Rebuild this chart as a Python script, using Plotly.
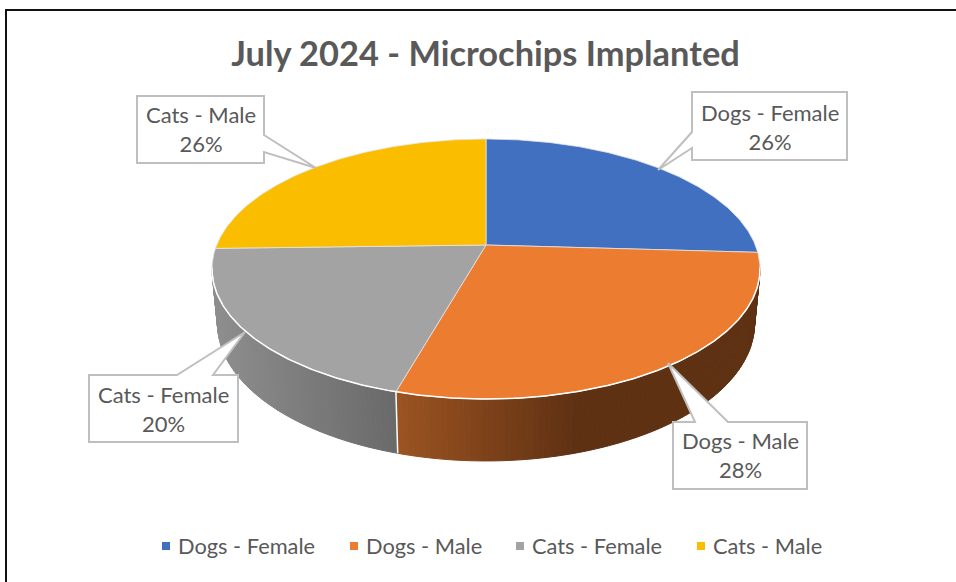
import math
import plotly.graph_objects as go

# ---------- data ----------
categories = ["Dogs - Female", "Dogs - Male", "Cats - Female", "Cats - Male"]
values = [26.0, 28.6, 20.2, 25.5]
percent_labels = ["26%", "28%", "20%", "26%"]
colors = ["#4270C1", "#EB7C30", "#A3A3A3", "#FBBD00"]
title_text = "July 2024 - Microchips Implanted"

# side gradient stops (screen x, rgb) per slice
side_stops = {
    1: [(398, (155, 83, 33)), (575, (95, 49, 19)), (760, (94, 49, 19))],
    2: [(212, (142, 142, 142)), (396, (105, 105, 105))],
}

# ---------- projection of the disc (perspective view, pixels) ----------
W, H = 956, 582
CX, CY = 486, 245
R, B, P = 269.3, 125.6, 0.1846
DEPTH, BOTTOM_SCALE = 53, 0.98
FONT = "Lato"
TEXT = "#595959"


def top(theta):
    u, v = math.sin(theta), -math.cos(theta)
    w = 1 - P * v
    return CX + R * u / w, CY + B * v / w


def bottom(theta):
    u, v = math.sin(theta), -math.cos(theta)
    w = 1 - P * v
    return CX + BOTTOM_SCALE * R * u / w, CY + (BOTTOM_SCALE * B * v + DEPTH) / w


def frange(a, b, step):
    n = max(2, int(abs(b - a) / step) + 1)
    return [a + (b - a) * i / (n - 1) for i in range(n)]


def shade(stops, x):
    if x <= stops[0][0]:
        c = stops[0][1]
    elif x >= stops[-1][0]:
        c = stops[-1][1]
    else:
        for (x0, c0), (x1, c1) in zip(stops, stops[1:]):
            if x0 <= x <= x1:
                t = (x - x0) / (x1 - x0)
                c = tuple(c0[i] + (c1[i] - c0[i]) * t for i in range(3))
                break
    return "rgb(%d,%d,%d)" % tuple(round(k) for k in c)


total = sum(values)
edges = [0.0]
for val in values:
    edges.append(edges[-1] + val / total * 2 * math.pi)

fig = go.Figure()
DEG = math.pi / 180
lo_vis, hi_vis = 100 * DEG, 260 * DEG

# side wall, one narrow band per step so the colour follows x
for i in (1, 2):
    a = max(edges[i], lo_vis)
    b = min(edges[i + 1], hi_vis)
    grid = frange(a, b, 1.0 * DEG)
    for t0, t1 in zip(grid, grid[1:]):
        p = [top(t0), top(t1), bottom(t1), bottom(t0), top(t0)]
        col = shade(side_stops[i], (p[0][0] + p[1][0]) / 2)
        fig.add_trace(go.Scatter(
            x=[q[0] for q in p], y=[q[1] for q in p], mode="lines", fill="toself",
            fillcolor=col, line=dict(color=col, width=1),
            hoverinfo="skip", showlegend=False))

# white seam on the wall
seam = [top(edges[2]), bottom(edges[2])]
fig.add_trace(go.Scatter(x=[q[0] for q in seam], y=[q[1] for q in seam], mode="lines",
                         line=dict(color="white", width=1.5), hoverinfo="skip", showlegend=False))

# top face
for i, name in enumerate(categories):
    arc = [top(t) for t in frange(edges[i], edges[i + 1], 0.5 * DEG)]
    pts = [(CX, CY)] + arc + [(CX, CY)]
    fig.add_trace(go.Scatter(
        x=[q[0] for q in pts], y=[q[1] for q in pts], mode="lines", fill="toself",
        fillcolor=colors[i], line=dict(color="#E4E4E4", width=0.8), name=name,
        hoverinfo="name", showlegend=False))

# white rim along the front edge
rim = [top(t) for t in frange(lo_vis, hi_vis, 0.5 * DEG)]
fig.add_trace(go.Scatter(x=[q[0] for q in rim], y=[q[1] for q in rim], mode="lines",
                         line=dict(color="white", width=1.5), hoverinfo="skip", showlegend=False))

# ---------- callouts: box x0,y0,x1,y1, pointer, side, text centre y ----------
callouts = {
    "Dogs - Female": ((692, 92, 847, 160), [(692, 132), (658, 170), (692, 148)], "left", 127),
    "Dogs - Male": ((673, 422, 807, 489), [(695, 422), (668, 363), (728, 422)], "top", 454.5),
    "Cats - Female": ((89, 375, 238, 442), [(177, 375), (245, 332), (213, 375)], "top", 408.5),
    "Cats - Male": ((137, 96, 264, 163), [(264, 135), (316, 168), (264, 152)], "right", 129),
}
shapes = []
annotations = []
for name, pct in zip(categories, percent_labels):
    (x0, y0, x1, y1), ptr, side, ty = callouts[name]
    if side == "left":
        path = [(x0, y0), (x1, y0), (x1, y1), (x0, y1)] + ptr[::-1]
    elif side == "right":
        path = [(x0, y0), (x1, y0)] + ptr + [(x1, y1), (x0, y1)]
    else:
        path = [(x0, y0)] + ptr + [(x1, y0), (x1, y1), (x0, y1)]
    d = "M" + " L".join(f"{a},{b}" for a, b in path) + " Z"
    shapes.append(dict(type="path", path=d, xref="x", yref="y", fillcolor="white",
                       line=dict(color="#BFBFBF", width=2), layer="above"))
    annotations.append(dict(
        x=(x0 + x1) / 2, y=ty, xref="x", yref="y", showarrow=False,
        text=f"{name}<br>{pct}",
        font=dict(family=FONT, size=22, color=TEXT), align="center"))

# chart frame (left and top sides are in view)
shapes.append(dict(type="path", path=f"M6,{H} L6,10 L{W},10", xref="x", yref="y",
                   line=dict(color="#111111", width=2)))

# ---------- legend ----------
legend_x = [166, 354, 520, 701]
legend_y = 546
for name, col, lx in zip(categories, colors, legend_x):
    fig.add_trace(go.Scatter(x=[lx], y=[legend_y], mode="markers",
                             marker=dict(symbol="square", size=8, color=col),
                             hoverinfo="skip", showlegend=False))
    annotations.append(dict(x=lx + 10, y=legend_y - 0.5, xref="x", yref="y", showarrow=False,
                            xanchor="left", text=name,
                            font=dict(family=FONT, size=21.8, color=TEXT)))

fig.update_layout(
    width=W, height=H, margin=dict(l=0, r=0, t=0, b=0),
    paper_bgcolor="white", plot_bgcolor="white",
    xaxis=dict(range=[0, W], visible=False, fixedrange=True),
    yaxis=dict(range=[H, 0], visible=False, fixedrange=True),
    title=dict(text=title_text, x=485.5 / W, xanchor="center", y=1 - 54 / H, yanchor="middle",
               font=dict(family=FONT, size=34.4, color=TEXT, weight="bold")),
    shapes=shapes, annotations=annotations, showlegend=False,
)
fig.write_html("out.html", post_script="document.body.style.margin='0';",
               config={"displayModeBar": False})
